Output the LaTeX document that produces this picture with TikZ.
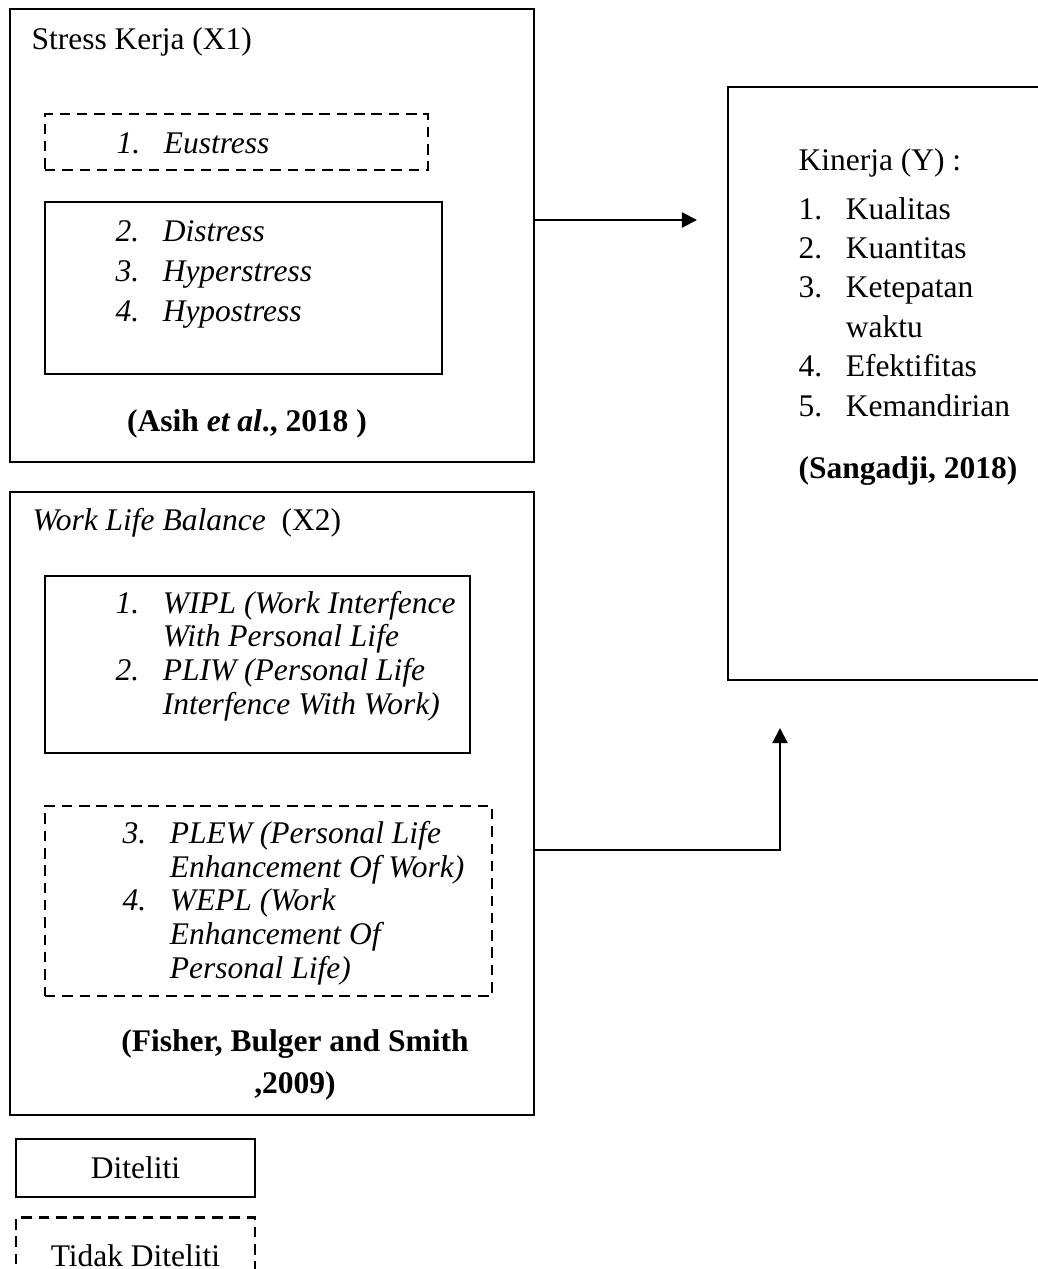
\documentclass[tikz,border=0pt,12pt]{standalone}
\usepackage{fontspec}
\setmainfont{Liberation Serif}
\usetikzlibrary{positioning, fit, arrows.meta}
\newcommand{\unitpx}{0.381pt}
\newcommand{\numw}[1]{\makebox[18pt][l]{#1}}
\newcommand{\fs}[1]{\fontsize{12}{#1}\selectfont}

\begin{document}
\begin{tikzpicture}[x=0.381pt, y=-0.381pt,
    box/.style = {draw, line width=1pt, inner sep=0pt},
    dbox/.style = {box, dash pattern=on 4pt off 2.6pt},
    txt/.style = {inner sep=0pt, anchor=base west, align=left},
    cite/.style = {inner sep=0pt, anchor=base, align=center, font=\bfseries},
    arr/.style = {line width=0.8pt, -{Triangle[length=5.8pt, width=5.8pt]}}]
  \useasboundingbox (0,0) rectangle (1037,1269);

  % stress kerja (base of a list node = its last line)
  \node[box, fit={(10,9) (534,462)}] (1) {};
  \node[txt] (1t) at (31,49) {Stress Kerja (X1)};
  \node[dbox, fit={(45,114) (428,170)}] (1a) {};
  \node[txt, font=\itshape] (1a1) at (116,153) {\numw{1.}Eustress};
  \node[box, fit={(45,202) (442,374)}] (1b) {};
  \node[txt, font=\itshape\fs{15.2}] (1b1) at (115,321) {
    \numw{2.}Distress \\
    \numw{3.}Hyperstress \\
    \numw{4.}Hypostress};
  \node[cite] (1c) at (247,431) {(Asih \textit{et al}., 2018 )};

  % work life balance
  \node[box, fit={(10,492) (534,1115)}] (2) {};
  \node[txt] (2t) at (32,530) {\textit{Work Life Balance}\ \ (X2)};
  \node[box, fit={(45,576) (470,753)}] (2a) {};
  \node[txt, font=\itshape\fs{12.8}] (2a1) at (115,714) {
    \numw{1.}WIPL (Work Interfence \\
    \hspace*{18pt}With Personal Life \\
    \numw{2.}PLIW (Personal Life \\
    \hspace*{18pt}Interfence With Work)};
  \node[dbox, fit={(45,806) (492,996)}] (2b) {};
  \node[txt, font=\itshape\fs{12.8}] (2b1) at (122,978) {
    \numw{3.}PLEW (Personal Life \\
    \hspace*{18pt}Enhancement Of Work) \\
    \numw{4.}WEPL (Work \\
    \hspace*{18pt}Enhancement Of \\
    \hspace*{18pt}Personal Life)};
  \node[cite, font=\bfseries\fs{16}] (2c) at (295,1093) {(Fisher, Bulger and Smith \\ ,2009)};

  % kinerja
  \node[box, fit={(728,87) (1060,680)}] (3) {};
  \node[txt] (3t) at (798,170) {Kinerja (Y) :};
  \node[txt, font=\fs{15}] (3a) at (798,416) {
    \numw{1.}Kualitas \\
    \numw{2.}Kuantitas \\
    \numw{3.}Ketepatan \\
    \hspace*{18pt}waktu \\
    \numw{4.}Efektifitas \\
    \numw{5.}Kemandirian};
  \node[txt, font=\bfseries] (3c) at (798,478) {(Sangadji, 2018)};

  % keterangan
  \node[box, minimum width=239*\unitpx, minimum height=58*\unitpx] (4) at (135.5,1168) {Diteliti};
  \node[dbox, minimum width=239*\unitpx, minimum height=75*\unitpx, below=6.9pt of 4] (5) {Tidak Diteliti};

  \coordinate (t1) at (697,220);
  \coordinate (b2) at (780,850);
  \coordinate (t2) at (780,728);
  \path[arr] (1.east |- t1) edge (t1);
  \draw[arr] (2.east |- b2) -- (b2) -- (t2);
\end{tikzpicture}
\end{document}
